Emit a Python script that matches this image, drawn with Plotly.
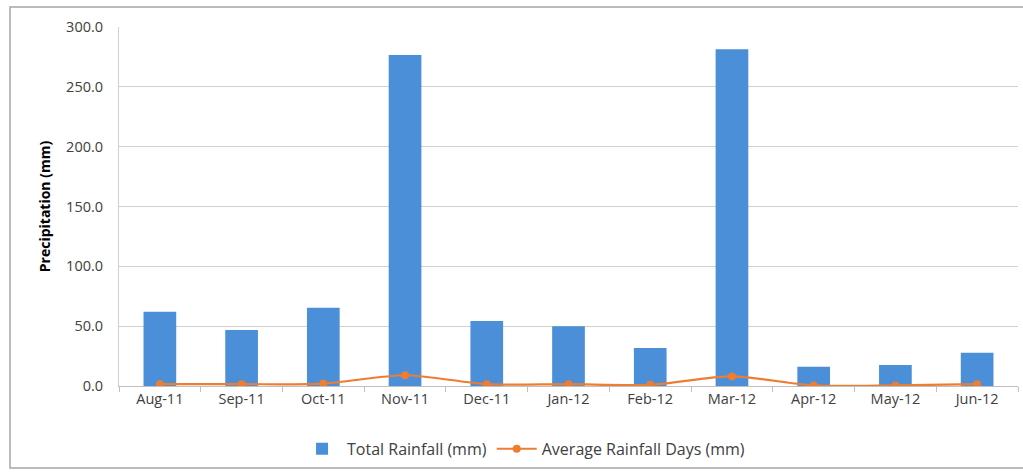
import plotly.graph_objects as go

months = ["Aug-11", "Sep-11", "Oct-11", "Nov-11", "Dec-11", "Jan-12",
          "Feb-12", "Mar-12", "Apr-12", "May-12", "Jun-12"]
total_rainfall = [62.0, 46.8, 65.4, 276.5, 54.3, 50.0, 31.7, 281.5, 16.0, 17.5, 27.8]
avg_rainfall_days = [1.5, 1.5, 2.0, 9.0, 1.5, 1.5, 1.0, 8.0, 0.5, 0.5, 1.5]
y_ticks = [0, 50, 100, 150, 200, 250, 300]

BLUE = "#4a8fd8"
ORANGE = "#ed7d31"
FONT = "Open Sans, Liberation Sans, sans-serif"

fig = go.Figure()
fig.add_trace(go.Bar(
    x=months, y=total_rainfall, name="Total Rainfall (mm)",
    marker=dict(color=BLUE, line=dict(width=0)),
))
fig.add_trace(go.Scatter(
    x=months, y=avg_rainfall_days, name="Average Rainfall Days (mm)",
    mode="lines+markers",
    line=dict(color=ORANGE, width=2.2, shape="spline", smoothing=0.8),
    marker=dict(color=ORANGE, size=8, symbol="circle"),
))

fig.update_layout(
    width=1023, height=474,
    margin=dict(l=119, r=5, t=27, b=88, autoexpand=False),
    paper_bgcolor="white", plot_bgcolor="white",
    bargap=0.6,
    font=dict(family=FONT, size=14, color="#404040"),
    showlegend=True,
    legend=dict(orientation="h", x=0.45, xanchor="center", y=-0.175, yanchor="middle",
                font=dict(size=16, color="#404040"), itemwidth=40,
                traceorder="normal"),
    xaxis=dict(
        automargin=False,
        range=[-0.5, len(months) - 0.5],
        showgrid=False, showline=True, linecolor="#bfbfbf", linewidth=1,
        ticks="outside", tickson="boundaries", ticklen=5, tickcolor="#bfbfbf",
        tickfont=dict(size=14.5, color="#404040"),
    ),
    yaxis=dict(
        automargin=False,
        range=[0, 300], tickvals=y_ticks,
        ticktext=[f"{v:.1f}" for v in y_ticks],
        showgrid=True, gridcolor="#d0d0d0", gridwidth=1,
        showline=True, linecolor="#d0d0d0", zeroline=False,
        ticks="", ticklabelstandoff=12,
        tickfont=dict(size=14.5, color="#404040"),
        title=dict(text="<b>Precipitation (mm)</b>", font=dict(size=14, color="#000000"),
                   standoff=12),
    ),
    shapes=[dict(type="rect", xref="paper", yref="paper",
                 x0=-109 / 899, x1=1.01, y0=-82 / 359, y1=1 + 20 / 359,
                 line=dict(color="#a6a6a6", width=1.5), fillcolor="rgba(0,0,0,0)",
                 layer="below")],
)

fig.write_html("out.html")
